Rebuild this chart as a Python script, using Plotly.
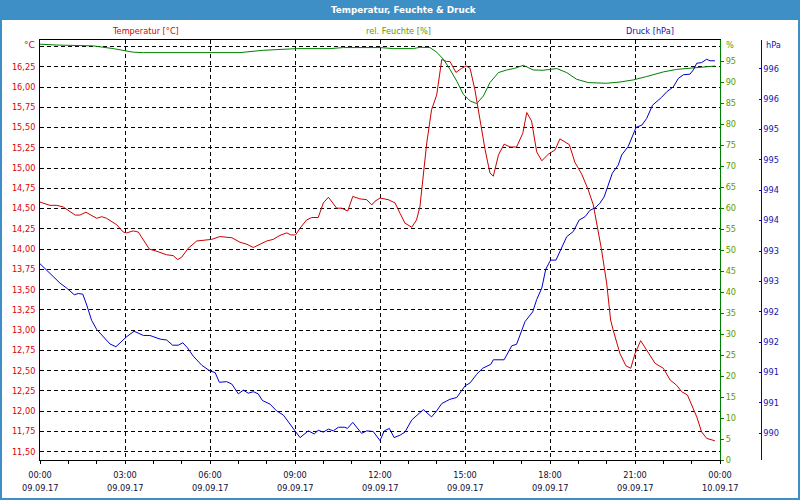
import pandas as pd
import plotly.graph_objects as go

# ---------------- data (hours after 09.09.17 00:00) ----------------
temp_h = [0.0, 0.35, 0.59, 0.82, 1.24, 1.41, 1.62, 2.0, 2.18, 2.35, 2.71, 2.94, 3.06, 3.29, 3.47, 3.65, 3.86, 4.06,
          4.47, 4.70, 4.86, 5.0, 5.23, 5.53, 5.88, 6.06, 6.35, 6.77, 7.06, 7.30, 7.53, 7.76, 8.0, 8.23, 8.47, 8.71,
          8.85, 9.02, 9.18, 9.41, 9.59, 9.82, 10.0, 10.18, 10.47, 10.65, 10.86, 11.04, 11.29, 11.53, 11.71, 11.82,
          12.0, 12.29, 12.53, 12.71, 12.88, 13.12, 13.29, 13.41, 13.53, 13.65, 13.82, 14.0, 14.18, 14.35, 14.47,
          14.68, 14.88, 15.04, 15.18, 15.35, 15.53, 15.71, 15.88, 16.0, 16.18, 16.38, 16.59, 16.82, 17.04, 17.18,
          17.35, 17.53, 17.71, 17.94, 18.18, 18.35, 18.68, 18.88, 19.12, 19.35, 19.53, 19.70, 19.82, 20.0, 20.14,
          20.23, 20.47, 20.68, 20.85, 21.0, 21.2, 21.41, 21.71, 22.0, 22.24, 22.47, 22.65, 22.85, 23.0, 23.18,
          23.35, 23.53, 23.82]
temperature = [14.58, 14.54, 14.54, 14.52, 14.42, 14.42, 14.455, 14.38, 14.40, 14.38, 14.30, 14.21, 14.20, 14.225,
               14.21, 14.11, 14.00, 13.98, 13.93, 13.92, 13.87, 13.90, 14.01, 14.10, 14.11, 14.12, 14.155, 14.14,
               14.085, 14.06, 14.02, 14.06, 14.10, 14.12, 14.17, 14.20, 14.175, 14.175, 14.26, 14.36, 14.39, 14.39,
               14.57, 14.64, 14.505, 14.505, 14.47, 14.65, 14.62, 14.61, 14.545, 14.59, 14.63, 14.61, 14.57, 14.44,
               14.32, 14.27, 14.36, 14.525, 14.94, 15.31, 15.72, 15.90, 16.34, 16.315, 16.315, 16.18, 16.23, 16.26,
               16.23, 15.965, 15.595, 15.225, 14.94, 14.90, 15.16, 15.295, 15.26, 15.26, 15.43, 15.685, 15.58, 15.20,
               15.09, 15.17, 15.225, 15.36, 15.29, 15.07, 14.925, 14.73, 14.545, 14.24, 13.99, 13.58, 13.125, 13.0,
               12.71, 12.56, 12.53, 12.71, 12.87, 12.755, 12.59, 12.53, 12.385, 12.32, 12.24, 12.20, 12.075, 11.93,
               11.745, 11.665, 11.635]

hum_h = [0.0, 0.59, 1.88, 2.59, 3.29, 3.65, 7.06, 7.88, 9.06, 10.24, 10.71, 12.0, 12.47, 12.71, 13.18, 13.41,
         13.76, 14.0, 14.24, 14.47, 14.71, 14.94, 15.18, 15.41, 15.65, 15.88, 16.18, 16.47, 16.76, 17.06, 17.41,
         17.76, 18.24, 18.59, 18.94, 19.35, 20.0, 20.47, 20.94, 21.41, 22.0, 22.47, 23.06, 23.82]
humidity = [99.0, 98.8, 98.6, 97.95, 97.1, 97.0, 97.0, 97.55, 97.95, 97.95, 98.2, 98.2, 97.95, 97.95, 97.95, 98.26,
            98.2, 97.1, 95.4, 93.0, 90.2, 87.07, 85.5, 84.86, 86.67, 89.86, 92.24, 92.86, 93.26, 93.98, 92.86,
            92.8, 93.2, 92.24, 90.65, 89.86, 89.7, 90.0, 90.5, 91.3, 92.4, 93.0, 93.4, 93.8]

pres_h = [0.0, 0.35, 0.71, 0.94, 1.21, 1.35, 1.51, 1.65, 1.82, 2.0,
          2.29, 2.47, 2.68, 2.88, 3.06, 3.32, 3.65, 3.88, 4.24, 4.47,
          4.68, 4.88, 5.04, 5.20, 5.41, 5.71, 6.0, 6.18, 6.33, 6.59,
          6.77, 7.0, 7.18, 7.35, 7.53, 7.70, 7.85, 8.12, 8.35, 8.59,
          8.82, 9.0, 9.18, 9.47, 9.68, 9.82, 10.0, 10.18, 10.35, 10.53,
          10.76, 10.85, 11.04, 11.18, 11.35, 11.53, 11.76, 12.0, 12.15, 12.33,
          12.50, 12.71, 12.88, 13.12, 13.35, 13.53, 13.82, 14.0, 14.18, 14.47,
          14.71, 15.0, 15.18, 15.41, 15.62, 15.91, 16.0, 16.38, 16.65, 16.82,
          17.12, 17.39, 17.53, 17.71, 17.85, 18.02, 18.21, 18.41, 18.59, 18.82,
          19.03, 19.24, 19.41, 19.59, 19.76, 19.91, 20.06, 20.2, 20.41, 20.53,
          20.76, 20.94, 21.04, 21.24, 21.41, 21.62, 21.77, 21.94, 22.12, 22.35,
          22.53, 22.71, 22.94, 23.06, 23.18, 23.35, 23.53, 23.65, 23.82]
pressure = [992.79, 992.63, 992.47, 992.39, 992.28, 992.30, 992.29, 992.11, 991.86, 991.71,
            991.56, 991.47, 991.425, 991.51, 991.59, 991.68, 991.61, 991.61, 991.55, 991.535,
            991.45, 991.45, 991.49, 991.41, 991.27, 991.12, 991.025, 991.0, 990.84, 990.85,
            990.81, 990.65, 990.71, 990.66, 990.685, 990.65, 990.54, 990.48, 990.37, 990.30,
            990.165, 990.04, 989.93, 990.04, 989.99, 990.05, 990.02, 990.07, 990.04, 990.10,
            990.10, 990.08, 990.18, 990.09, 990.0, 990.04, 990.03, 989.88, 990.04, 990.08,
            989.93, 989.97, 990.02, 990.22, 990.32, 990.39, 990.27, 990.37, 990.49, 990.56,
            990.59, 990.78, 990.83, 990.97, 991.07, 991.135, 991.21, 991.21, 991.44, 991.465,
            991.84, 992.0, 992.2, 992.39, 992.70, 992.85, 992.85, 993.04, 993.235, 993.32,
            993.51, 993.565, 993.67, 993.71, 993.785, 993.89, 994.11, 994.28, 994.415, 994.58,
            994.72, 994.94, 995.035, 995.07, 995.18, 995.40, 995.456, 995.53, 995.62, 995.70,
            995.84, 995.90, 995.91, 995.98, 996.09, 996.10, 996.155, 996.13, 996.13]

temp_tickvals = [11.5, 11.75, 12.0, 12.25, 12.5, 12.75, 13.0, 13.25, 13.5, 13.75, 14.0, 14.25, 14.5, 14.75,
                 15.0, 15.25, 15.5, 15.75, 16.0, 16.25, 16.5]
temp_ticktext = ["11,50", "11,75", "12,00", "12,25", "12,50", "12,75", "13,00", "13,25", "13,50", "13,75",
                 "14,00", "14,25", "14,50", "14,75", "15,00", "15,25", "15,50", "15,75", "16,00", "16,25", ""]
hum_tickvals = [0, 5, 10, 15, 20, 25, 30, 35, 40, 45, 50, 55, 60, 65, 70, 75, 80, 85, 90, 95]
pres_tickvals = [990.0, 990.5, 991.0, 991.5, 992.0, 992.5, 993.0, 993.5, 994.0, 994.5, 995.0, 995.5, 996.0]
pres_ticktext = ["990", "991", "991", "992", "992", "993", "993", "994", "994", "995", "995", "996", "996"]
date_ticks_h = [0, 3, 6, 9, 12, 15, 18, 21, 24]

base = pd.Timestamp("2017-09-09 00:00")
def to_time(hours):
    return [base + pd.Timedelta(hours=h) for h in hours]

# ---------------- styling ----------------
RED_LINE = "#cc0000"
GREEN_LINE = "#008000"
BLUE_LINE = "#0000cc"
RED_TXT = "#dd0000"
GREEN_TXT = "#5e9a00"
BLUE_TXT = "#1414b4"
DARK_TXT = "#101038"
FRAME = "#3d8fc6"
FONT = "DejaVu Sans"
FS = 8.2

W, H = 800, 500
ML, MR, MT, MB = 40, 10, 40, 40
PW = W - ML - MR  # paper width
PH = H - MT - MB
def xp(px):
    return (px - ML) / PW
def yp(py):
    return 1 - (py - MT) / PH

fig = go.Figure()
fig.add_trace(go.Scatter(x=to_time(temp_h), y=temperature, mode="lines", yaxis="y",
                         line=dict(color=RED_LINE, width=1), name="Temperatur"))
fig.add_trace(go.Scatter(x=to_time(hum_h), y=humidity, mode="lines", yaxis="y2",
                         line=dict(color=GREEN_LINE, width=1), name="rel. Feuchte"))
fig.add_trace(go.Scatter(x=to_time(pres_h), y=pressure, mode="lines", yaxis="y3",
                         line=dict(color=BLUE_LINE, width=1), name="Druck"))

grid_dash = "4px,3px"
fig.update_layout(
    width=W, height=H, autosize=False,
    margin=dict(l=ML, r=MR, t=MT, b=MB, pad=0, autoexpand=False),
    paper_bgcolor="white", plot_bgcolor="white",
    showlegend=False,
    font=dict(family=FONT, size=FS, color=DARK_TXT),
    xaxis=dict(
        domain=[0, 680 / PW], type="date", automargin=False,
        range=[base, base + pd.Timedelta(hours=24)],
        tick0=base, dtick=3 * 3600 * 1000, tickformat="%H:%M",
        showgrid=True, gridcolor="black", gridwidth=1, griddash=grid_dash,
        showline=True, linecolor="black", linewidth=1, mirror=True,
        ticks="outside", ticklen=3, tickcolor="black", tickwidth=1,
        minor=dict(dtick=3600 * 1000, ticks="outside", ticklen=3, tickcolor="black", showgrid=False),
        tickfont=dict(family=FONT, size=FS, color=DARK_TXT),
        ticklabelstandoff=4,
        zeroline=False,
    ),
    yaxis=dict(
        range=[11.398, 16.58], tickvals=temp_tickvals, ticktext=temp_ticktext, automargin=False,
        showgrid=True, gridcolor="black", gridwidth=1, griddash=grid_dash,
        showline=True, linecolor="black", linewidth=1, ticks="",
        tickfont=dict(family=FONT, size=FS, color=RED_TXT), zeroline=False,
        ticklabelstandoff=2,
    ),
    yaxis2=dict(
        overlaying="y", side="right", anchor="x", range=[0, 100], tickvals=hum_tickvals, automargin=False,
        showgrid=False, showline=True, linecolor=GREEN_LINE, linewidth=1,
        ticks="outside", ticklen=3, tickcolor=GREEN_LINE,
        tickfont=dict(family=FONT, size=FS, color=GREEN_TXT), zeroline=False,
    ),
    yaxis3=dict(
        overlaying="y", side="right", anchor="free", position=xp(760.7), automargin=False,
        range=[989.561, 996.472], tickvals=pres_tickvals, ticktext=pres_ticktext,
        showgrid=False, showline=True, linecolor=BLUE_LINE, linewidth=1,
        ticks="inside", ticklen=2, tickcolor=BLUE_LINE,
        tickfont=dict(family=FONT, size=FS, color=BLUE_TXT), zeroline=False,
    ),
)

# window frame (title bar + borders)
shapes = [
    dict(type="rect", xref="paper", yref="paper", x0=xp(0), x1=xp(W), y0=yp(20), y1=yp(0),
         fillcolor=FRAME, line=dict(width=0), layer="above"),
    dict(type="rect", xref="paper", yref="paper", x0=xp(0), x1=xp(2), y0=yp(H), y1=yp(0),
         fillcolor=FRAME, line=dict(width=0), layer="above"),
    dict(type="rect", xref="paper", yref="paper", x0=xp(W - 2), x1=xp(W), y0=yp(H), y1=yp(0),
         fillcolor=FRAME, line=dict(width=0), layer="above"),
    dict(type="rect", xref="paper", yref="paper", x0=xp(0), x1=xp(W), y0=yp(H), y1=yp(H - 2),
         fillcolor=FRAME, line=dict(width=0), layer="above"),
]
fig.update_layout(shapes=shapes)

ann = [
    dict(text="<b>Temperatur, Feuchte & Druck</b>", x=xp(404), y=yp(10), xref="paper", yref="paper",
         showarrow=False, font=dict(family=FONT, size=8.8, color="white"), xanchor="center", yanchor="middle"),
    dict(text="Temperatur [°C]", x=xp(145), y=yp(31), xref="paper", yref="paper", showarrow=False,
         font=dict(family=FONT, size=FS, color=RED_TXT), xanchor="center", yanchor="middle"),
    dict(text="rel. Feuchte [%]", x=xp(398), y=yp(31), xref="paper", yref="paper", showarrow=False,
         font=dict(family=FONT, size=FS, color=GREEN_TXT), xanchor="center", yanchor="middle"),
    dict(text="Druck [hPa]", x=xp(650), y=yp(31), xref="paper", yref="paper", showarrow=False,
         font=dict(family=FONT, size=FS, color=BLUE_TXT), xanchor="center", yanchor="middle"),
    dict(text="°C", x=xp(37), y=yp(45), xref="paper", yref="paper", showarrow=False,
         font=dict(family=FONT, size=FS + 1, color=RED_TXT), xanchor="right", yanchor="middle"),
    dict(text="%", x=xp(724), y=yp(45), xref="paper", yref="paper", showarrow=False,
         font=dict(family=FONT, size=FS, color=GREEN_TXT), xanchor="left", yanchor="middle"),
    dict(text="hPa", x=xp(764), y=yp(45), xref="paper", yref="paper", showarrow=False,
         font=dict(family=FONT, size=FS, color=BLUE_TXT), xanchor="left", yanchor="middle"),
]
for h in date_ticks_h:
    t = base + pd.Timedelta(hours=h)
    ann.append(dict(text=t.strftime("%d.%m.%y"), x=t, y=yp(488), xref="x", yref="paper",
                    showarrow=False, font=dict(family=FONT, size=FS, color=DARK_TXT),
                    xanchor="center", yanchor="middle"))
fig.update_layout(annotations=ann)

fig.write_html("out.html")
